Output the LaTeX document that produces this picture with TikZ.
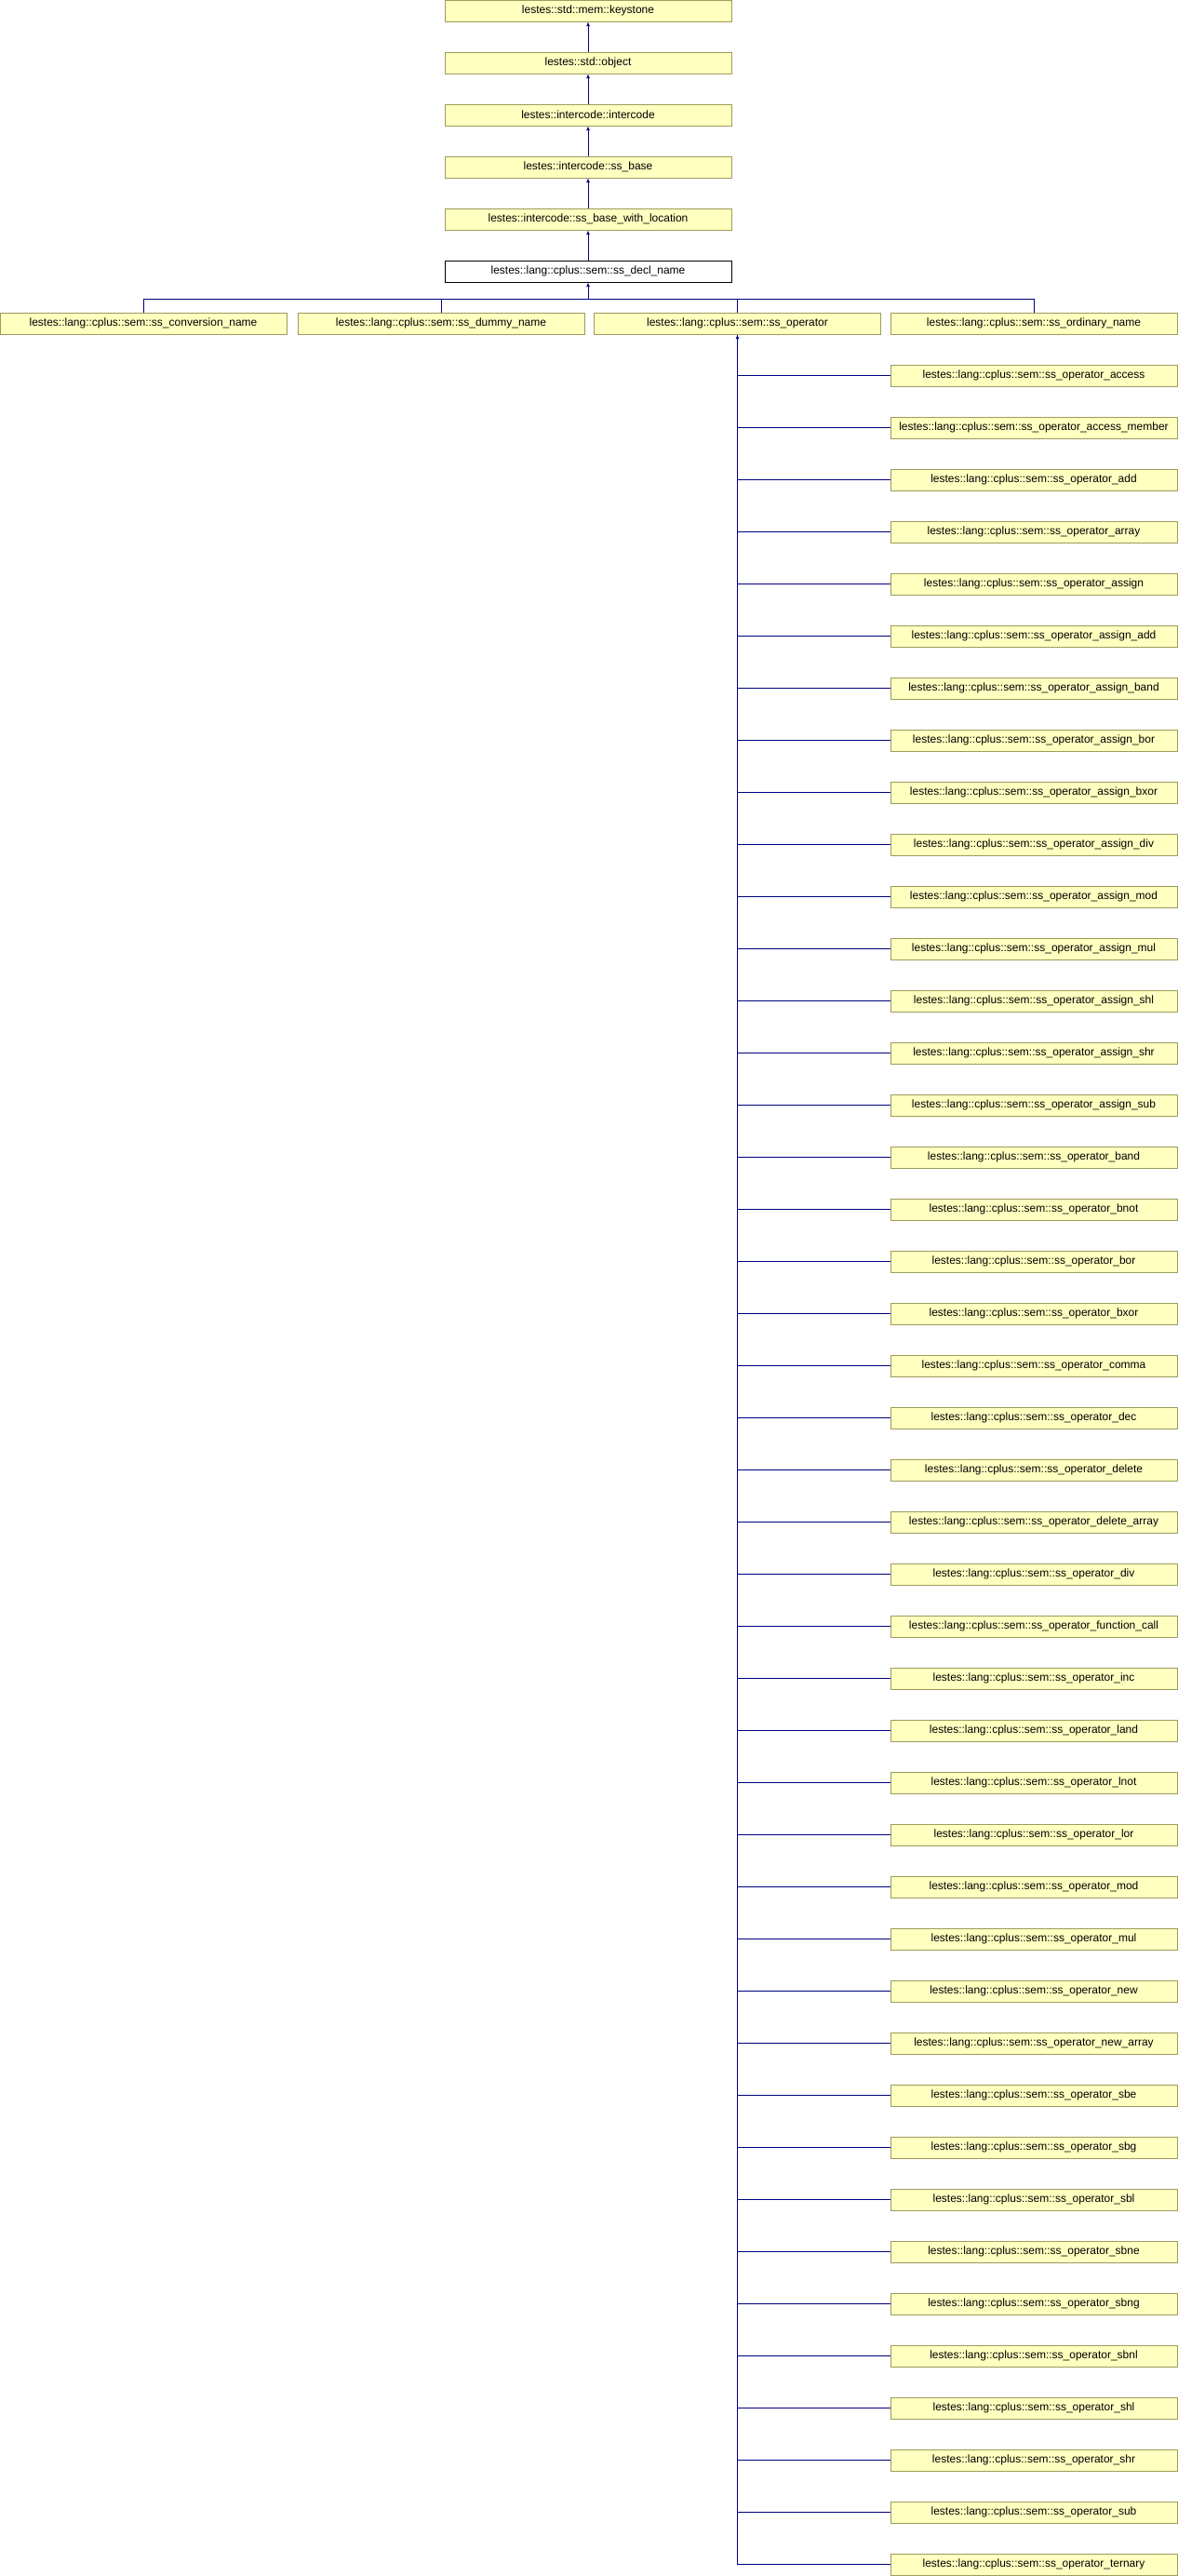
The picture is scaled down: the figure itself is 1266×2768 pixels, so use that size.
\documentclass[tikz,border=0pt]{standalone}
\usepackage{xcolor}
\usepackage{tikz}
\usetikzlibrary{arrows.meta}
\usepackage{fontspec}
\setmainfont{Liberation Sans}
\definecolor{fondclasse}{HTML}{FFFFC0}
\definecolor{bordclasse}{HTML}{9C9C5C}
\definecolor{bleulien}{HTML}{000080}
\begin{document}
\begin{tikzpicture}[x=1pt,y=-1pt]
% Styles (MODIFIABLES)
\tikzstyle{lien}=[bleulien,line width=1pt]
\tikzstyle{fleche}=[lien,-{Latex[length=4.5pt,width=4pt]}]
\tikzstyle{classe}=[fill=fondclasse,draw=bordclasse,line width=1pt,rectangle,minimum width=308pt,minimum height=23pt,inner sep=0pt,font=\fontsize{12}{14}\selectfont]
\tikzstyle{classedoc}=[classe,fill=white,draw=black]
% Dimensions (MODIFIABLES)
\def\DistanceInterNiveaux{56}
\def\ColonneChaine{632}
\def\ColonneFilles{1111}
% Dimensions calculées (NON MODIFIABLES)
\def\NiveauA{11.5}
\def\NiveauRangee{(\NiveauA+6*\DistanceInterNiveaux)}
\def\NiveauFille{(\NiveauA+7*\DistanceInterNiveaux)}
\useasboundingbox (0,0) rectangle (1266,2768);
% Noeuds (MODIFIABLES)
\node[classe] (K) at ({\ColonneChaine},{\NiveauA}) {lestes::std::mem::keystone};
\node[classe] (O) at ({\ColonneChaine},{\NiveauA+1*\DistanceInterNiveaux}) {lestes::std::object};
\node[classe] (I) at ({\ColonneChaine},{\NiveauA+2*\DistanceInterNiveaux}) {lestes::intercode::intercode};
\node[classe] (B) at ({\ColonneChaine},{\NiveauA+3*\DistanceInterNiveaux}) {lestes::intercode::ss\_base};
\node[classe] (BL) at ({\ColonneChaine},{\NiveauA+4*\DistanceInterNiveaux}) {lestes::intercode::ss\_base\_with\_location};
\node[classedoc] (D) at ({\ColonneChaine},{\NiveauA+5*\DistanceInterNiveaux}) {lestes::lang::cplus::sem::ss\_decl\_name};
\coordinate (J) at ({\ColonneChaine},321);
\node[classe] (Dc) at (154,{\NiveauRangee}) {lestes::lang::cplus::sem::ss\_conversion\_name};
\node[classe] (Dd) at (474,{\NiveauRangee}) {lestes::lang::cplus::sem::ss\_dummy\_name};
\node[classe] (Do) at (792.5,{\NiveauRangee}) {lestes::lang::cplus::sem::ss\_operator};
\node[classe] (Dn) at ({\ColonneFilles},{\NiveauRangee}) {lestes::lang::cplus::sem::ss\_ordinary\_name};
\node[classe] (Do1) at ({\ColonneFilles},{\NiveauFille+0*\DistanceInterNiveaux}) {lestes::lang::cplus::sem::ss\_operator\_access};
\node[classe] (Do2) at ({\ColonneFilles},{\NiveauFille+1*\DistanceInterNiveaux}) {lestes::lang::cplus::sem::ss\_operator\_access\_member};
\node[classe] (Do3) at ({\ColonneFilles},{\NiveauFille+2*\DistanceInterNiveaux}) {lestes::lang::cplus::sem::ss\_operator\_add};
\node[classe] (Do4) at ({\ColonneFilles},{\NiveauFille+3*\DistanceInterNiveaux}) {lestes::lang::cplus::sem::ss\_operator\_array};
\node[classe] (Do5) at ({\ColonneFilles},{\NiveauFille+4*\DistanceInterNiveaux}) {lestes::lang::cplus::sem::ss\_operator\_assign};
\node[classe] (Do6) at ({\ColonneFilles},{\NiveauFille+5*\DistanceInterNiveaux}) {lestes::lang::cplus::sem::ss\_operator\_assign\_add};
\node[classe] (Do7) at ({\ColonneFilles},{\NiveauFille+6*\DistanceInterNiveaux}) {lestes::lang::cplus::sem::ss\_operator\_assign\_band};
\node[classe] (Do8) at ({\ColonneFilles},{\NiveauFille+7*\DistanceInterNiveaux}) {lestes::lang::cplus::sem::ss\_operator\_assign\_bor};
\node[classe] (Do9) at ({\ColonneFilles},{\NiveauFille+8*\DistanceInterNiveaux}) {lestes::lang::cplus::sem::ss\_operator\_assign\_bxor};
\node[classe] (Do10) at ({\ColonneFilles},{\NiveauFille+9*\DistanceInterNiveaux}) {lestes::lang::cplus::sem::ss\_operator\_assign\_div};
\node[classe] (Do11) at ({\ColonneFilles},{\NiveauFille+10*\DistanceInterNiveaux}) {lestes::lang::cplus::sem::ss\_operator\_assign\_mod};
\node[classe] (Do12) at ({\ColonneFilles},{\NiveauFille+11*\DistanceInterNiveaux}) {lestes::lang::cplus::sem::ss\_operator\_assign\_mul};
\node[classe] (Do13) at ({\ColonneFilles},{\NiveauFille+12*\DistanceInterNiveaux}) {lestes::lang::cplus::sem::ss\_operator\_assign\_shl};
\node[classe] (Do14) at ({\ColonneFilles},{\NiveauFille+13*\DistanceInterNiveaux}) {lestes::lang::cplus::sem::ss\_operator\_assign\_shr};
\node[classe] (Do15) at ({\ColonneFilles},{\NiveauFille+14*\DistanceInterNiveaux}) {lestes::lang::cplus::sem::ss\_operator\_assign\_sub};
\node[classe] (Do16) at ({\ColonneFilles},{\NiveauFille+15*\DistanceInterNiveaux}) {lestes::lang::cplus::sem::ss\_operator\_band};
\node[classe] (Do17) at ({\ColonneFilles},{\NiveauFille+16*\DistanceInterNiveaux}) {lestes::lang::cplus::sem::ss\_operator\_bnot};
\node[classe] (Do18) at ({\ColonneFilles},{\NiveauFille+17*\DistanceInterNiveaux}) {lestes::lang::cplus::sem::ss\_operator\_bor};
\node[classe] (Do19) at ({\ColonneFilles},{\NiveauFille+18*\DistanceInterNiveaux}) {lestes::lang::cplus::sem::ss\_operator\_bxor};
\node[classe] (Do20) at ({\ColonneFilles},{\NiveauFille+19*\DistanceInterNiveaux}) {lestes::lang::cplus::sem::ss\_operator\_comma};
\node[classe] (Do21) at ({\ColonneFilles},{\NiveauFille+20*\DistanceInterNiveaux}) {lestes::lang::cplus::sem::ss\_operator\_dec};
\node[classe] (Do22) at ({\ColonneFilles},{\NiveauFille+21*\DistanceInterNiveaux}) {lestes::lang::cplus::sem::ss\_operator\_delete};
\node[classe] (Do23) at ({\ColonneFilles},{\NiveauFille+22*\DistanceInterNiveaux}) {lestes::lang::cplus::sem::ss\_operator\_delete\_array};
\node[classe] (Do24) at ({\ColonneFilles},{\NiveauFille+23*\DistanceInterNiveaux}) {lestes::lang::cplus::sem::ss\_operator\_div};
\node[classe] (Do25) at ({\ColonneFilles},{\NiveauFille+24*\DistanceInterNiveaux}) {lestes::lang::cplus::sem::ss\_operator\_function\_call};
\node[classe] (Do26) at ({\ColonneFilles},{\NiveauFille+25*\DistanceInterNiveaux}) {lestes::lang::cplus::sem::ss\_operator\_inc};
\node[classe] (Do27) at ({\ColonneFilles},{\NiveauFille+26*\DistanceInterNiveaux}) {lestes::lang::cplus::sem::ss\_operator\_land};
\node[classe] (Do28) at ({\ColonneFilles},{\NiveauFille+27*\DistanceInterNiveaux}) {lestes::lang::cplus::sem::ss\_operator\_lnot};
\node[classe] (Do29) at ({\ColonneFilles},{\NiveauFille+28*\DistanceInterNiveaux}) {lestes::lang::cplus::sem::ss\_operator\_lor};
\node[classe] (Do30) at ({\ColonneFilles},{\NiveauFille+29*\DistanceInterNiveaux}) {lestes::lang::cplus::sem::ss\_operator\_mod};
\node[classe] (Do31) at ({\ColonneFilles},{\NiveauFille+30*\DistanceInterNiveaux}) {lestes::lang::cplus::sem::ss\_operator\_mul};
\node[classe] (Do32) at ({\ColonneFilles},{\NiveauFille+31*\DistanceInterNiveaux}) {lestes::lang::cplus::sem::ss\_operator\_new};
\node[classe] (Do33) at ({\ColonneFilles},{\NiveauFille+32*\DistanceInterNiveaux}) {lestes::lang::cplus::sem::ss\_operator\_new\_array};
\node[classe] (Do34) at ({\ColonneFilles},{\NiveauFille+33*\DistanceInterNiveaux}) {lestes::lang::cplus::sem::ss\_operator\_sbe};
\node[classe] (Do35) at ({\ColonneFilles},{\NiveauFille+34*\DistanceInterNiveaux}) {lestes::lang::cplus::sem::ss\_operator\_sbg};
\node[classe] (Do36) at ({\ColonneFilles},{\NiveauFille+35*\DistanceInterNiveaux}) {lestes::lang::cplus::sem::ss\_operator\_sbl};
\node[classe] (Do37) at ({\ColonneFilles},{\NiveauFille+36*\DistanceInterNiveaux}) {lestes::lang::cplus::sem::ss\_operator\_sbne};
\node[classe] (Do38) at ({\ColonneFilles},{\NiveauFille+37*\DistanceInterNiveaux}) {lestes::lang::cplus::sem::ss\_operator\_sbng};
\node[classe] (Do39) at ({\ColonneFilles},{\NiveauFille+38*\DistanceInterNiveaux}) {lestes::lang::cplus::sem::ss\_operator\_sbnl};
\node[classe] (Do40) at ({\ColonneFilles},{\NiveauFille+39*\DistanceInterNiveaux}) {lestes::lang::cplus::sem::ss\_operator\_shl};
\node[classe] (Do41) at ({\ColonneFilles},{\NiveauFille+40*\DistanceInterNiveaux}) {lestes::lang::cplus::sem::ss\_operator\_shr};
\node[classe] (Do42) at ({\ColonneFilles},{\NiveauFille+41*\DistanceInterNiveaux}) {lestes::lang::cplus::sem::ss\_operator\_sub};
\node[classe] (Do43) at ({\ColonneFilles},{\NiveauFille+42*\DistanceInterNiveaux}) {lestes::lang::cplus::sem::ss\_operator\_ternary};
% Arcs (MODIFIABLES : Styles)
\draw[fleche] (O)--(K);
\draw[fleche] (I)--(O);
\draw[fleche] (B)--(I);
\draw[fleche] (BL)--(B);
\draw[fleche] (D.north)--(BL);
\draw[fleche] (J)--(D);
\draw[lien] (Dc.north) |- (J);
\draw[lien] (Dd.north) |- (J);
\draw[lien] (Do.north) |- (J);
\draw[lien] (Dn.north) |- (J);
\draw[lien] (Do1.west) -| (Do.south);
\draw[lien] (Do2.west) -| (Do.south);
\draw[lien] (Do3.west) -| (Do.south);
\draw[lien] (Do4.west) -| (Do.south);
\draw[lien] (Do5.west) -| (Do.south);
\draw[lien] (Do6.west) -| (Do.south);
\draw[lien] (Do7.west) -| (Do.south);
\draw[lien] (Do8.west) -| (Do.south);
\draw[lien] (Do9.west) -| (Do.south);
\draw[lien] (Do10.west) -| (Do.south);
\draw[lien] (Do11.west) -| (Do.south);
\draw[lien] (Do12.west) -| (Do.south);
\draw[lien] (Do13.west) -| (Do.south);
\draw[lien] (Do14.west) -| (Do.south);
\draw[lien] (Do15.west) -| (Do.south);
\draw[lien] (Do16.west) -| (Do.south);
\draw[lien] (Do17.west) -| (Do.south);
\draw[lien] (Do18.west) -| (Do.south);
\draw[lien] (Do19.west) -| (Do.south);
\draw[lien] (Do20.west) -| (Do.south);
\draw[lien] (Do21.west) -| (Do.south);
\draw[lien] (Do22.west) -| (Do.south);
\draw[lien] (Do23.west) -| (Do.south);
\draw[lien] (Do24.west) -| (Do.south);
\draw[lien] (Do25.west) -| (Do.south);
\draw[lien] (Do26.west) -| (Do.south);
\draw[lien] (Do27.west) -| (Do.south);
\draw[lien] (Do28.west) -| (Do.south);
\draw[lien] (Do29.west) -| (Do.south);
\draw[lien] (Do30.west) -| (Do.south);
\draw[lien] (Do31.west) -| (Do.south);
\draw[lien] (Do32.west) -| (Do.south);
\draw[lien] (Do33.west) -| (Do.south);
\draw[lien] (Do34.west) -| (Do.south);
\draw[lien] (Do35.west) -| (Do.south);
\draw[lien] (Do36.west) -| (Do.south);
\draw[lien] (Do37.west) -| (Do.south);
\draw[lien] (Do38.west) -| (Do.south);
\draw[lien] (Do39.west) -| (Do.south);
\draw[lien] (Do40.west) -| (Do.south);
\draw[lien] (Do41.west) -| (Do.south);
\draw[lien] (Do42.west) -| (Do.south);
\draw[fleche] (Do43.west) -| (Do.south);
\end{tikzpicture}
\end{document}
